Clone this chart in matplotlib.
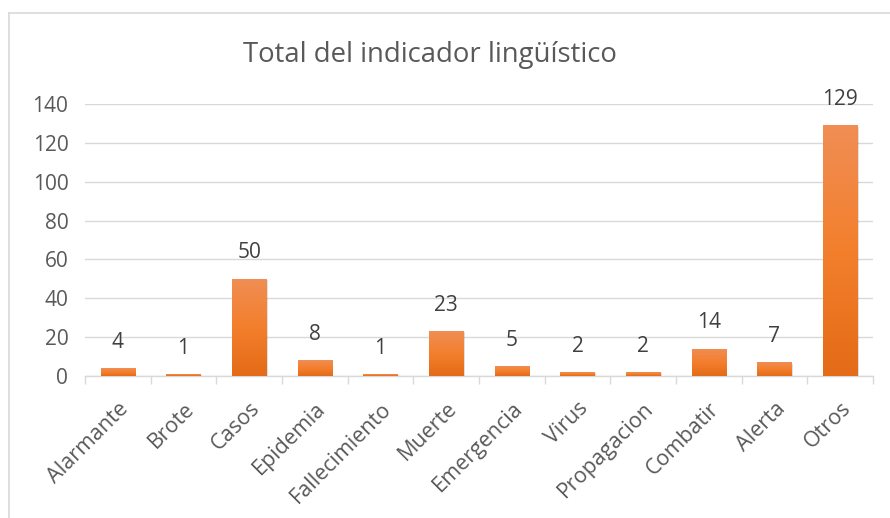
import numpy as np
import matplotlib.pyplot as plt
from matplotlib.lines import Line2D
from matplotlib.patches import Rectangle
from matplotlib.colors import LinearSegmentedColormap

categories = ["Alarmante", "Brote", "Casos", "Epidemia", "Fallecimiento", "Muerte",
              "Emergencia", "Virus", "Propagacion", "Combatir", "Alerta", "Otros"]
values = [4, 1, 50, 8, 1, 23, 5, 2, 2, 14, 7, 129]
yticks = [0, 20, 40, 60, 80, 100, 120, 140]

plt.rcParams.update({
    "font.family": ["Open Sans", "DejaVu Sans"],
    "font.size": 15,
})

fig = plt.figure(figsize=(8.9, 5.18), dpi=100)
ax = fig.add_axes([85 / 890, 1 - 376 / 518, (873 - 85) / 890, 272 / 518])

x = np.arange(len(categories))
width = 0.52
bars = ax.bar(x, values, width=width, color="none", zorder=3)

# gradient fill per bar, light at top, dark at bottom
cmap = LinearSegmentedColormap.from_list("og", ["#E46B17", "#F37F2C", "#F08E55"])
grad = np.linspace(0, 1, 256).reshape(-1, 1)
for b in bars:
    x0, y0 = b.get_x(), b.get_y()
    w, h = b.get_width(), b.get_height()
    # soft shadow
    ax.add_patch(Rectangle((x0 + 0.02, y0 - 0.6), w, h, facecolor="#000000",
                           alpha=0.12, edgecolor="none", zorder=2))
    im = ax.imshow(grad, cmap=cmap, origin="lower", aspect="auto",
                   extent=(x0, x0 + w, y0, y0 + h), zorder=3)
    im.set_clip_path(b)

for xi, v in zip(x, values):
    ax.text(xi, v + 8, str(v), ha="center", va="bottom", fontsize=15, color="#404040")

ax.set_xlim(-0.5, len(categories) - 0.5)
ax.set_ylim(0, 140)
ax.set_yticks(yticks)
ax.set_xticks(x)
ax.set_xticklabels(categories, rotation=45, ha="right", rotation_mode="anchor",
                   color="#595959", fontsize=15.5)
ax.tick_params(axis="x", length=0, pad=16)
ax.tick_params(axis="y", length=0, colors="#595959", labelsize=15, pad=12)
ax.set_xticks(np.arange(-0.5, len(categories) + 0.5, 1), minor=True)
ax.tick_params(axis="x", which="minor", length=6, color="#D9D9D9", width=1)

ax.grid(axis="y", color="#D9D9D9", linewidth=1, zorder=0)
for s in ["top", "right", "left"]:
    ax.spines[s].set_visible(False)
ax.spines["bottom"].set_color("#D9D9D9")
ax.spines["bottom"].set_linewidth(1)

fig.text(0.483, 1 - 55 / 518, "Total del indicador lingüístico", ha="center",
         va="center", fontsize=19.8, color="#595959")

# chart border (only left and top edges visible in the crop)
bx, by = 8.5 / 890, 1 - 12.5 / 518
fig.add_artist(Line2D([bx, bx], [0, by], transform=fig.transFigure,
                      color="#D9D9D9", linewidth=1.2))
fig.add_artist(Line2D([bx, 1], [by, by], transform=fig.transFigure,
                      color="#D9D9D9", linewidth=1.2))

fig.savefig("out.png", dpi=100)
